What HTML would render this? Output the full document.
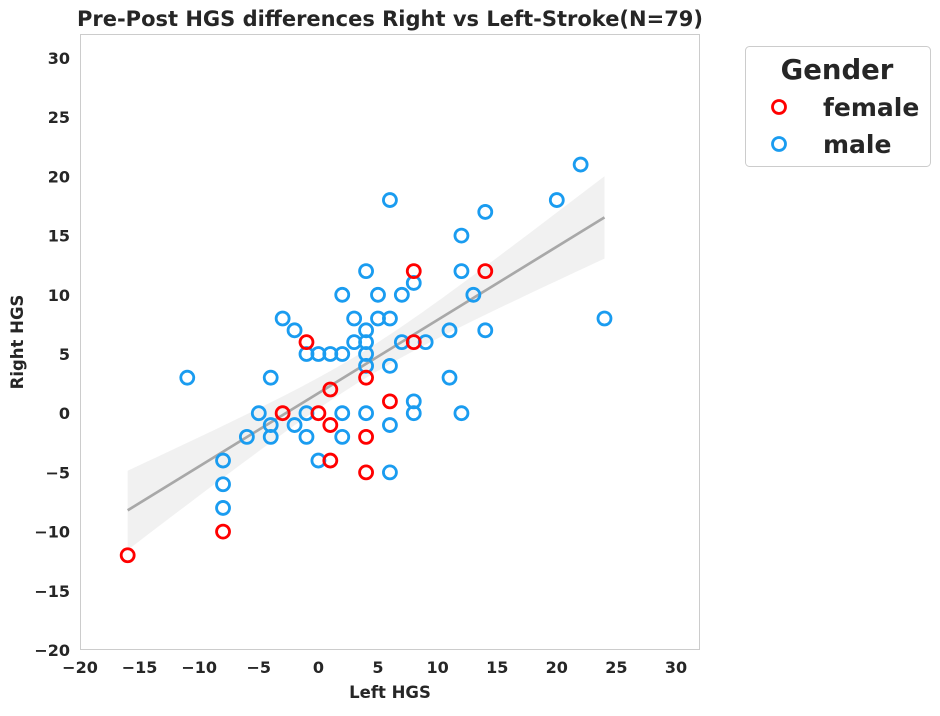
<!DOCTYPE html>
<html><head><meta charset="utf-8"><style>
body{margin:0;background:#fff;}
svg{font-family:"DejaVu Sans","Liberation Sans",sans-serif;font-weight:bold;}
</style></head><body>
<svg id="chart" width="940" height="711">
<text x="390" y="26" text-anchor="middle" font-size="21" fill="#262626">Pre-Post HGS differences Right vs Left-Stroke(N=79)</text>
<rect x="80.5" y="34.5" width="619" height="615" fill="#fff" stroke="#ccc"/>
<g id="band"></g><g id="xt"></g><g id="yt"></g><g id="pts"></g>
<text x="390" y="698" text-anchor="middle" font-size="16.5" fill="#262626">Left HGS</text>
<text x="23" y="342" text-anchor="middle" font-size="16.5" fill="#262626" transform="rotate(-90 23 342)">Right HGS</text>
<g>
<rect x="745.5" y="46.5" width="185" height="120" rx="4" fill="#fff" stroke="#ccc"/>
<text x="837" y="79" text-anchor="middle" font-size="27.5" fill="#262626">Gender</text>
<g><circle cx="779" cy="107" r="6.5" fill="none" stroke="#ff0000" stroke-width="2.8"/><text x="823" y="116" font-size="25" fill="#262626">female</text></g>
<g><circle cx="779" cy="144" r="6.5" fill="none" stroke="#1a9cf0" stroke-width="2.8"/><text x="823" y="153" font-size="25" fill="#262626">male</text></g>
</g>
</svg>
<script>
const xTicks=[-20,-15,-10,-5,0,5,10,15,20,25,30];
const yTicks=[-20,-15,-10,-5,0,5,10,15,20,25,30];
const femaleX=[-16,-8,-3,0,-1,1,1,1,4,4,4,6,8,8,14];
const femaleY=[-12,-10,0,0,6,2,-1,-4,3,-2,-5,1,12,6,12];
const maleX=[-11,-8,-8,-8,-6,-5,-4,-4,-4,-3,-2,-2,-1,-1,-1,0,0,1,2,2,2,2,3,3,4,4,4,4,4,4,5,5,6,6,6,6,6,7,7,8,8,8,9,11,11,12,12,12,13,14,14,20,22,24];
const maleY=[3,-4,-6,-8,-2,0,-1,-2,3,8,7,-1,5,0,-2,5,-4,5,10,5,0,-2,8,6,12,7,6,5,4,0,10,8,18,8,4,-1,-5,10,6,11,1,0,6,7,3,15,12,0,10,17,7,18,21,8];
const X=v=>318.4+v*11.92, Y=v=>413.2-v*11.84;
const NS='http://www.w3.org/2000/svg';
function mk(t,a,p){const e=document.createElementNS(NS,t);for(const k in a)e.setAttribute(k,a[k]);p.appendChild(e);return e;}
const xt=document.getElementById('xt'),yt=document.getElementById('yt');
xTicks.forEach(v=>{const t=mk('text',{x:X(v),y:673,'text-anchor':'middle','font-size':16,fill:'#262626'},xt);t.textContent=String(v).replace('-','\u2212');

});
yTicks.forEach(v=>{const t=mk('text',{x:70,y:Y(v)+6,'text-anchor':'end','font-size':16,fill:'#262626'},yt);t.textContent=String(v).replace('-','\u2212');

});
const ax=femaleX.concat(maleX), ay=femaleY.concat(maleY), n=ax.length;
const mx=ax.reduce((a,b)=>a+b)/n, my=ay.reduce((a,b)=>a+b)/n;
let sxx=0,sxy=0;for(let i=0;i<n;i++){sxx+=(ax[i]-mx)**2;sxy+=(ax[i]-mx)*(ay[i]-my);}
const b=sxy/sxx,a=my-b*mx;let sse=0;for(let i=0;i<n;i++)sse+=(ay[i]-a-b*ax[i])**2;
const s=Math.sqrt(sse/(n-2));
const x0=Math.min(...ax),x1=Math.max(...ax);
const up=[],lo=[];
for(let k=0;k<=50;k++){const x=x0+(x1-x0)*k/50;const se=1.99*s*Math.sqrt(1/n+(x-mx)**2/sxx);const yh=a+b*x;up.push(X(x)+','+Y(yh+se));lo.unshift(X(x)+','+Y(yh-se));}
const band=document.getElementById('band');
const poly=mk('polygon',{points:up.concat(lo).join(' '),fill:'#a0a0a0','fill-opacity':0.15},band);


const ln=mk('line',{x1:X(x0),y1:Y(a+b*x0),x2:X(x1),y2:Y(a+b*x1),stroke:'#a8a8a8','stroke-width':2.7},band);


const pts=document.getElementById('pts');
maleX.forEach((x,i)=>{const c=mk('circle',{cx:X(x),cy:Y(maleY[i]),r:6.5,fill:'none',stroke:'#1a9cf0','stroke-width':2.8},pts);

});
femaleX.forEach((x,i)=>{const c=mk('circle',{cx:X(x),cy:Y(femaleY[i]),r:6.5,fill:'none',stroke:'#ff0000','stroke-width':2.8},pts);

});
</script>
</body></html>
